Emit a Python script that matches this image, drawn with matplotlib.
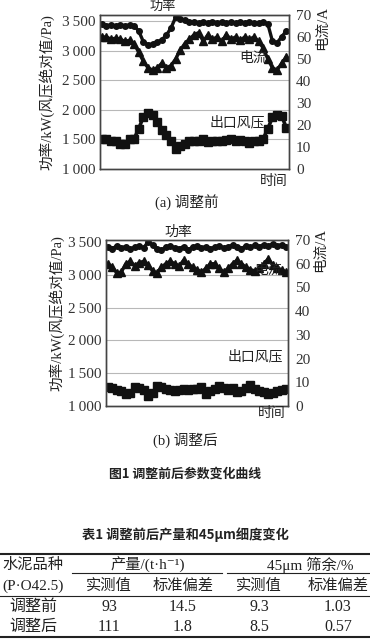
import numpy as np
import matplotlib
matplotlib.use('Agg')
import matplotlib.pyplot as plt

plt.rcParams['font.family'] = ['Liberation Serif', 'DejaVu Serif', 'Noto Sans CJK SC']

# ---- 数据 ----
# (a) 调整前
power_a = [3450, 3420, 3430, 3420, 3430, 3420, 3430, 3420, 3330, 3150,
           3100, 3110, 3140, 3180, 3260, 3380, 3560, 3530, 3510, 3480,
           3490, 3470, 3480, 3470, 3490, 3470, 3480, 3470, 3480, 3470,
           3480, 3470, 3480, 3470, 3470, 3480, 3450, 3160, 3130, 3230, 3330]
current_a = [60, 60, 59, 59.5, 59, 58, 58.5, 57, 53, 49,
             46, 45, 46, 48, 46, 47, 50, 54, 57, 59,
             61, 62, 58, 61, 59, 60, 58, 61, 59, 60,
             58.5, 60, 59, 60, 58, 55, 50, 46, 45, 48, 51]
outlet_a = [1510, 1500, 1480, 1470, 1420, 1430, 1510, 1510, 1680, 1880,
            1950, 1910, 1800, 1660, 1570, 1480, 1340, 1380, 1420, 1470,
            1470, 1480, 1500, 1450, 1470, 1480, 1470, 1490, 1500, 1470,
            1490, 1470, 1440, 1470, 1480, 1510, 1680, 1870, 1920, 1900, 1700]

# (b) 调整后
power_b = [3430, 3400, 3440, 3410, 3430, 3390, 3420, 3440, 3410, 3500,
           3460, 3400, 3380, 3420, 3440, 3410, 3400, 3430, 3380, 3420,
           3440, 3410, 3430, 3400, 3420, 3440, 3410, 3430, 3450, 3420,
           3400, 3440, 3420, 3450, 3430, 3460, 3440, 3470, 3440, 3460, 3430]
current_b = [60, 58.5, 56, 56.5, 60, 61, 59, 60.5, 61, 59.5,
             57, 56, 58.5, 60, 61, 60, 59, 61.5, 60, 58.5,
             57.5, 56.5, 58, 60, 60, 58, 56.5, 58, 60, 61.5,
             60, 58.5, 57.5, 57, 58, 60, 62, 59.5, 58, 57.5, 56.5]
outlet_b = [1285, 1280, 1240, 1230, 1180, 1200, 1285, 1270, 1250, 1160,
            1200, 1305, 1290, 1255, 1240, 1230, 1250, 1255, 1250, 1255,
            1260, 1285, 1180, 1230, 1255, 1300, 1270, 1250, 1280, 1210,
            1230, 1270, 1320, 1255, 1230, 1210, 1180, 1200, 1230, 1240, 1260]

left_ticks = [1000, 1500, 2000, 2500, 3000, 3500]
left_labels = ['1\u2009000', '1\u2009500', '2\u2009000', '2\u2009500', '3\u2009000', '3\u2009500']
right_ticks = [0, 10, 20, 30, 40, 50, 60, 70]

# 表格
tab_rows = ['调整前', '调整后']
tab_out = ['93', '111']
tab_out_sd = ['14.5', '1.8']
tab_res = ['9.3', '8.5']
tab_res_sd = ['1.03', '0.57']

W, H = 370, 640
fig = plt.figure(figsize=(W / 100, H / 100), dpi=100)
fig.patch.set_facecolor('white')


def panel(rect, pw, cur, outl, ylim_l, xlim, grid_ticks):
    ax = fig.add_axes(rect)
    x = np.arange(len(pw))
    ax.plot(x, pw, color='#111111', lw=2.4, marker='o', ms=4)
    ax.plot(x, outl, color='#111111', lw=2.6, marker='s', ms=5.5)
    ax.set_ylim(*ylim_l)
    ax.set_xlim(*xlim)
    ax.set_yticks(left_ticks)
    ax.set_yticklabels(left_labels)
    ax.set_xticks([])
    for g in grid_ticks:
        ax.axhline(g, color='#b8b8b8', lw=0.8, zorder=0)
    ax.tick_params(axis='y', length=0, pad=3, labelsize=11, colors='#333333')
    ax2 = ax.twinx()
    ax2.plot(x, cur, color='#111111', lw=2.4, marker='^', ms=5.5)
    ax2.set_ylim(0, 70)
    ax2.set_yticks(right_ticks)
    ax2.tick_params(axis='y', length=0, pad=5, labelsize=11, colors='#333333')
    for a in (ax, ax2):
        for s in a.spines.values():
            s.set_color('#444444')
            s.set_linewidth(1.0)
    return ax


panel([100 / W, 1 - 169 / H, 189 / W, 154 / H], power_a, current_a, outlet_a,
      (1000, 3600), (-0.4, 40.6), [1500, 2000, 2500, 3000, 3500])
panel([106 / W, 1 - 406 / H, 182 / W, 166 / H], power_b, current_b, outlet_b,
      (1000, 3530), (-0.45, 40.45), [1500, 2000, 2500, 3000])

# 覆盖层，像素坐标
ov = fig.add_axes([0, 0, 1, 1])
ov.set_xlim(0, W)
ov.set_ylim(H, 0)
ov.axis('off')
ov.patch.set_alpha(0)

txt = dict(ha='center', va='center', color='#222222')
# (a)
ov.text(163, 7, '功率', fontsize=9.5, **txt)
ov.text(253, 58, '电流', fontsize=10, **txt)
ov.text(237, 123, '出口风压', fontsize=10, **txt)
ov.text(274, 182, '时间', fontsize=10, **txt)
ov.text(187, 202, '(a) 调整前', fontsize=10.5, **txt)
ov.text(47, 92, '功率/kW(风压绝对值/Pa)', fontsize=10.5, rotation=90, **txt)
ov.text(322, 28, '电流/A', fontsize=10.5, rotation=90, **txt)
# (b)
ov.text(178, 232, '功率', fontsize=10, **txt)
ov.text(268, 270, '电流', fontsize=10, **txt)
ov.text(255, 357, '出口风压', fontsize=10, **txt)
ov.text(272, 414, '时间', fontsize=10, **txt)
ov.text(185, 440, '(b) 调整后', fontsize=10.5, **txt)
ov.text(57, 313, '功率/kW(风压绝对值/Pa)', fontsize=10.5, rotation=90, **txt)
ov.text(320, 250, '电流/A', fontsize=10.5, rotation=90, **txt)

# 标题
ov.text(185, 474, '图1 调整前后参数变化曲线', fontsize=9.3, fontweight='bold',
        family=['Noto Sans CJK SC'], ha='center', va='center', color='#222222')
ov.text(185, 535, '表1 调整前后产量和45μm细度变化', fontsize=9.5, fontweight='bold',
        family=['Noto Sans CJK SC'], ha='center', va='center', color='#222222')

# 表格线
ov.plot([0, W], [554, 554], color='#222222', lw=1.5)
ov.plot([72, 222], [573, 573], color='#222222', lw=0.8)
ov.plot([227, W], [573, 573], color='#222222', lw=0.8)
ov.plot([0, W], [596, 596], color='#222222', lw=0.8)
ov.plot([0, W], [637, 637], color='#222222', lw=1.5)

cols = [33, 109, 183, 259, 338]
ts = 11
ov.text(cols[0], 565, '水泥品种', fontsize=ts, **txt)
ov.text(148, 565, '产量/(t·h⁻¹)', fontsize=ts, **txt)
ov.text(310, 565, '45μm 筛余/%', fontsize=ts, **txt)
ov.text(cols[0], 586, '(P·O42.5)', fontsize=ts, **txt)
for c, s in zip(cols[1:], ['实测值', '标准偏差', '实测值', '标准偏差']):
    ov.text(c, 586, s, fontsize=ts, **txt)
for r, y in enumerate([607, 627]):
    vals = [tab_rows[r], tab_out[r], tab_out_sd[r], tab_res[r], tab_res_sd[r]]
    for c, s in zip(cols, vals):
        ov.text(c, y, s, fontsize=11.5, **txt)

fig.savefig('out.png', dpi=100)
